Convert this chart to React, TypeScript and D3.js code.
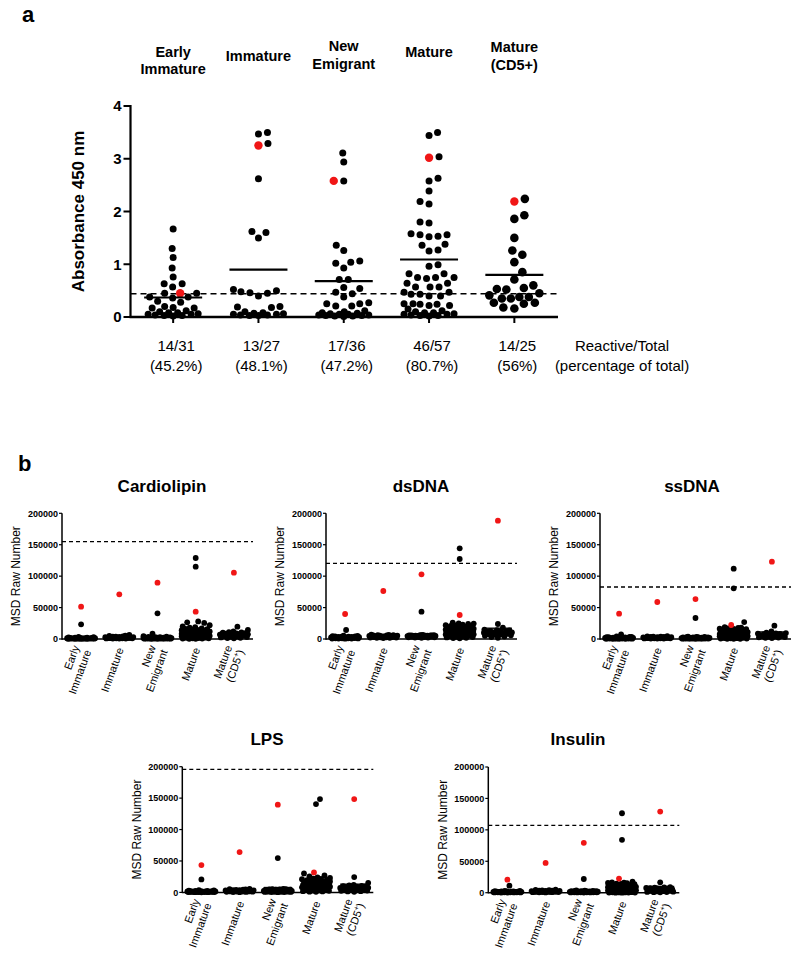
import React from 'react';
import * as d3 from 'd3';

const FONT = "'Liberation Sans', Arial, Helvetica, sans-serif";
const RED = '#f01616';

// ---------------- Panel a data ----------------
const groupsA = ['Early Immature', 'Immature', 'New Emigrant', 'Mature', 'Mature (CD5+)'];
const headerLinesA = [['Early', 'Immature'], ['Immature'], ['New', 'Emigrant'], ['Mature'], ['Mature', '(CD5+)']];
const earlyImmatureA = [1.67, 1.3, 1.13, 0.93, 0.76, 0.63, 0.63, 0.57, 0.45, 0.45, 0.38, 0.38, 0.36, 0.3, 0.28, 0.2, 0.18, 0.17, 0.17, 0.12, 0.1, 0.08, 0.08, 0.06, 0.05, 0.05, 0.04, 0.03, 0.03, 0.02];
const immatureA = [3.5, 3.47, 3.29, 2.62, 1.62, 1.6, 1.5, 0.52, 0.5, 0.48, 0.46, 0.45, 0.4, 0.2, 0.19, 0.18, 0.1, 0.08, 0.07, 0.06, 0.05, 0.05, 0.04, 0.04, 0.03, 0.03];
const newEmigrantA = [3.11, 2.94, 2.58, 1.36, 1.26, 1.06, 1.04, 1.02, 0.93, 0.71, 0.71, 0.56, 0.54, 0.47, 0.44, 0.38, 0.27, 0.25, 0.25, 0.21, 0.21, 0.12, 0.1, 0.08, 0.07, 0.06, 0.05, 0.05, 0.04, 0.04, 0.03, 0.03, 0.02, 0.02, 0.01];
const matureA = [3.5, 3.44, 3.04, 2.63, 2.58, 2.39, 2.19, 2.14, 1.8, 1.78, 1.58, 1.56, 1.56, 1.53, 1.52, 1.38, 1.36, 1.27, 1.25, 0.99, 0.96, 0.82, 0.82, 0.75, 0.75, 0.75, 0.73, 0.64, 0.64, 0.57, 0.57, 0.57, 0.47, 0.47, 0.43, 0.43, 0.4, 0.4, 0.25, 0.25, 0.24, 0.24, 0.22, 0.22, 0.15, 0.12, 0.1, 0.08, 0.08, 0.06, 0.05, 0.05, 0.04, 0.03, 0.03, 0.02];
const matureCD5A = [2.24, 1.93, 1.86, 1.5, 1.26, 1.18, 1.04, 0.85, 0.71, 0.6, 0.55, 0.53, 0.52, 0.45, 0.41, 0.38, 0.38, 0.35, 0.35, 0.27, 0.27, 0.25, 0.18, 0.16];
const blackA = [earlyImmatureA, immatureA, newEmigrantA, matureA, matureCD5A];
const redA = [0.45, 3.25, 2.58, 3.02, 2.19];
const meansA = [0.37, 0.9, 0.68, 1.09, 0.8];
const cutoffA = 0.44;
const reactiveA = ['14/31', '13/27', '17/36', '46/57', '14/25'];
const percentA = ['(45.2%)', '(48.1%)', '(47.2%)', '(80.7%)', '(56%)'];
const yTicksA = [0, 1, 2, 3, 4];

// ---------------- Panel b data ----------------
const groupsB = ['Early Immature', 'Immature', 'New Emigrant', 'Mature', 'Mature (CD5+)'];
const antigensB = ['Cardiolipin', 'dsDNA', 'ssDNA', 'LPS', 'Insulin'];
const cutoffsB = [154800, 120400, 82700, 195900, 107200];
const yTicksB = [0, 50000, 100000, 150000, 200000];

const cardiolipinBlack = [
  [23400, 3200, 2800, 2500, 2300, 2100, 1900, 1800, 1600, 1500, 1400, 1300, 1200, 1100, 1000, 950, 900, 850, 800, 750, 700, 650, 600, 550, 500, 450, 400, 350, 300, 250],
  [6400, 5200, 4800, 4300, 3900, 3600, 3300, 3000, 2800, 2600, 2400, 2200, 2000, 1900, 1700, 1600, 1500, 1400, 1300, 1200, 1100, 1000, 900, 800, 700, 600],
  [40900, 8400, 4500, 3800, 3400, 3100, 2900, 2700, 2500, 2300, 2100, 2000, 1900, 1800, 1700, 1600, 1500, 1400, 1300, 1200, 1100, 1000, 950, 900, 850, 800, 750, 700, 650, 600, 550, 500, 450, 400, 350],
  [128900, 115000, 28000, 26500, 25500, 22000, 20000, 19000, 18000, 17000, 16000, 15500, 15000, 14500, 14000, 13500, 13000, 12500, 12000, 11500, 11000, 10500, 10000, 9500, 9000, 8800, 8500, 8200, 8000, 7700, 7400, 7000, 6700, 6400, 6000, 5700, 5400, 5100, 4800, 4500, 4200, 3900, 3600, 3300, 3000, 2700, 2400, 2100, 1800, 1500, 1200, 1000, 800, 600, 400, 200],
  [19600, 14300, 12000, 11000, 10500, 10000, 9500, 9000, 8500, 8000, 7500, 7000, 6500, 6000, 5500, 5000, 4500, 4000, 3500, 3000, 2500, 2000, 1500, 1000],
];
const cardiolipinRed = [51400, 71100, 89600, 43500, 105500];

const dsDNABlack = [
  [14300, 5200, 4800, 4500, 4200, 4000, 3800, 3600, 3400, 3200, 3000, 2800, 2600, 2500, 2400, 2200, 2000, 1900, 1800, 1600, 1500, 1400, 1200, 1100, 1000, 900, 800, 700, 600, 500],
  [7000, 6500, 6200, 6000, 5800, 5600, 5400, 5200, 5000, 4800, 4600, 4400, 4200, 4000, 3800, 3600, 3400, 3200, 3000, 2800, 2600, 2400, 2200, 2000, 1800, 1600],
  [43500, 6500, 6300, 6100, 6000, 5900, 5800, 5700, 5600, 5500, 5400, 5300, 5200, 5100, 5000, 4900, 4800, 4700, 4600, 4500, 4400, 4300, 4200, 4100, 4000, 3800, 3600, 3400, 3200, 3000, 2800, 2600, 2400, 2200, 2000],
  [144300, 127300, 26000, 25000, 24500, 24000, 23000, 22000, 21000, 20000, 19000, 18000, 17500, 17000, 16500, 16000, 15500, 15000, 14500, 14000, 13500, 13000, 12500, 12000, 11500, 11000, 10500, 10000, 9500, 9000, 8500, 8000, 7500, 7000, 6500, 6000, 5500, 5000, 4500, 4000, 3500, 3000, 2500, 2000, 1500, 1000, 21500, 19500, 18500, 16200, 14800, 13200, 11800, 9800, 8800, 7800],
  [23900, 18000, 15000, 14000, 13500, 13000, 12500, 12000, 11500, 11000, 10500, 10000, 9500, 9000, 8500, 8000, 7500, 7000, 6500, 6000, 5000, 4000, 3000, 2000],
];
const dsDNARed = [39800, 76400, 102900, 38200, 188200];

const ssDNABlack = [
  [7500, 4000, 3500, 3200, 3000, 2800, 2600, 2400, 2200, 2000, 1900, 1800, 1700, 1600, 1500, 1400, 1300, 1200, 1100, 1000, 900, 800, 700, 600, 500, 450, 400, 350, 300, 250],
  [4600, 4200, 3900, 3600, 3400, 3200, 3000, 2800, 2600, 2400, 2200, 2000, 1900, 1800, 1700, 1600, 1500, 1400, 1300, 1200, 1100, 1000, 900, 800, 700, 600],
  [33400, 3800, 3500, 3200, 3000, 2800, 2600, 2500, 2400, 2300, 2200, 2100, 2000, 1900, 1800, 1700, 1600, 1500, 1400, 1300, 1200, 1100, 1000, 950, 900, 850, 800, 750, 700, 650, 600, 550, 500, 450, 400],
  [111900, 80700, 27000, 19000, 18000, 17500, 17000, 16500, 16000, 15500, 15000, 14500, 14000, 13500, 13000, 12500, 12000, 11500, 11000, 10500, 10000, 9700, 9400, 9100, 8800, 8500, 8200, 7900, 7600, 7300, 7000, 6700, 6400, 6100, 5800, 5500, 5200, 4900, 4600, 4300, 4000, 3700, 3400, 3100, 2800, 2500, 2200, 1900, 1600, 1300, 1000, 800, 600, 400, 300, 200],
  [21200, 12200, 10000, 9500, 9000, 8600, 8200, 7800, 7400, 7000, 6600, 6200, 5800, 5400, 5000, 4600, 4200, 3800, 3400, 3000, 2600, 2200, 1800, 1400],
];
const ssDNARed = [40300, 58900, 63600, 22300, 123000];

const lpsBlack = [
  [20700, 3500, 3000, 2700, 2400, 2200, 2000, 1900, 1800, 1700, 1600, 1500, 1400, 1300, 1200, 1100, 1000, 950, 900, 850, 800, 750, 700, 650, 600, 550, 500, 400, 300, 200],
  [5500, 5000, 4600, 4300, 4000, 3700, 3400, 3200, 3000, 2800, 2600, 2400, 2200, 2000, 1900, 1800, 1700, 1600, 1500, 1400, 1300, 1200, 1000, 800, 600, 400],
  [54600, 5500, 5200, 5000, 4800, 4600, 4400, 4200, 4000, 3800, 3600, 3400, 3200, 3000, 2800, 2600, 2400, 2200, 2000, 1900, 1800, 1700, 1600, 1500, 1400, 1300, 1200, 1100, 1000, 900, 800, 700, 600, 500, 400],
  [148500, 140500, 30200, 27000, 25500, 24000, 23000, 22000, 21000, 20000, 19000, 18000, 17000, 16000, 15500, 15000, 14500, 14000, 13500, 13000, 12500, 12000, 11500, 11000, 10500, 10000, 9500, 9000, 8500, 8000, 7500, 7000, 6500, 6000, 5500, 5000, 4500, 4000, 3500, 3000, 2500, 2000, 1500, 1000, 21500, 19500, 18500, 17500, 16500, 12800, 11200, 9200, 7200, 5200, 3200, 1200],
  [24400, 15300, 12000, 11000, 10500, 10000, 9500, 9000, 8500, 8000, 7500, 7000, 6500, 6000, 5500, 5000, 4500, 4000, 3500, 3000, 2500, 2000, 1500, 1000],
];
const lpsRed = [43500, 64100, 139500, 31800, 148500];

const insulinBlack = [
  [11200, 3000, 2700, 2400, 2200, 2000, 1900, 1800, 1700, 1600, 1500, 1400, 1300, 1200, 1100, 1000, 950, 900, 850, 800, 750, 700, 650, 600, 550, 500, 450, 400, 300, 200],
  [4800, 4400, 4000, 3700, 3400, 3200, 3000, 2800, 2600, 2400, 2200, 2000, 1900, 1800, 1700, 1600, 1500, 1400, 1300, 1200, 1100, 1000, 900, 800, 600, 400],
  [21800, 3600, 3300, 3000, 2800, 2600, 2500, 2400, 2300, 2200, 2100, 2000, 1900, 1800, 1700, 1600, 1500, 1400, 1300, 1200, 1100, 1000, 950, 900, 850, 800, 750, 700, 650, 600, 550, 500, 450, 400, 300],
  [126400, 84200, 17500, 16500, 16000, 15500, 15000, 14500, 14000, 13500, 13000, 12500, 12000, 11500, 11000, 10500, 10000, 9700, 9400, 9100, 8800, 8500, 8200, 7900, 7600, 7300, 7000, 6700, 6400, 6100, 5800, 5500, 5200, 4900, 4600, 4300, 4000, 3700, 3400, 3100, 2800, 2500, 2200, 1900, 1600, 1300, 1000, 800, 600, 500, 400, 300, 200, 150, 100, 50],
  [16500, 9000, 8500, 8000, 7600, 7200, 6800, 6400, 6000, 5600, 5200, 4800, 4400, 4000, 3600, 3200, 2800, 2400, 2000, 1600, 1200, 1000, 800, 600],
];
const insulinRed = [20800, 47400, 79400, 22400, 129000];

const blackB = [cardiolipinBlack, dsDNABlack, ssDNABlack, lpsBlack, insulinBlack];
const redB = [cardiolipinRed, dsDNARed, ssDNARed, lpsRed, insulinRed];

// ---------------- layout ----------------
const A_LEFT = 130.5;
const A_RIGHT = 557;
const A_TOP = 106;
const A_BOTTOM = 317;
const headerYA = [[57, 74], [61], [51, 68.5], [57], [52, 70]];

const PB_W = 191;
const PB_H = 125.7;
const layoutB = [
  { left: 62, top: 513.3, titleX: 162, titleY: 492 },
  { left: 326, top: 513.3, titleX: 421, titleY: 492 },
  { left: 600, top: 513.3, titleX: 692, titleY: 492 },
  { left: 182.3, top: 766.7, titleX: 267, titleY: 745 },
  { left: 488.3, top: 767, titleX: 578, titleY: 745 },
];

// beeswarm x offsets (dodge), with a maximum spread where points overlap
function swarm(ys: number[], rs: number[], gap: number, maxSpread: number): number[] {
  const order = d3.range(ys.length).sort((a, b) => ys[b] - ys[a]);
  const placed: { x: number; y: number; r: number }[] = [];
  const out: number[] = new Array(ys.length).fill(0);
  const step = 0.5;
  const nSteps = Math.floor(maxSpread / step);
  order.forEach((i, n) => {
    let best = 0;
    let bestScore = -Infinity;
    const sign = n % 2 === 0 ? 1 : -1;
    for (let k = 0; k <= nSteps * 2; k++) {
      const m = Math.ceil(k / 2);
      const off = (k % 2 === 1 ? sign : -sign) * m * step;
      let score = Infinity;
      for (const p of placed) {
        const dd = Math.hypot(p.x - off, p.y - ys[i]) - (p.r + rs[i] + gap);
        if (dd < score) score = dd;
      }
      if (score >= 0) {
        best = off;
        bestScore = score;
        break;
      }
      if (score > bestScore) {
        bestScore = score;
        best = off;
      }
    }
    placed.push({ x: best, y: ys[i], r: rs[i] });
    out[i] = best;
  });
  return out;
}

function PanelA() {
  const x = d3.scaleBand<string>().domain(groupsA).range([A_LEFT, A_RIGHT]);
  const y = d3.scaleLinear().domain([0, 4]).range([A_BOTTOM, A_TOP]);
  const bw = x.bandwidth();

  const dots: { cx: number; cy: number; r: number; red: boolean }[] = [];
  groupsA.forEach((g, gi) => {
    const vals = [...blackA[gi], redA[gi]];
    const isRed = vals.map((_, i) => i === vals.length - 1);
    const rBlack = gi === 4 ? 4.3 : 3.5;
    const rs = isRed.map((r) => (r ? 4.2 : rBlack));
    const ys = vals.map((v) => y(v));
    const offs = swarm(ys, rs, 2, 25);
    const cx0 = (x(g) as number) + bw / 2;
    vals.forEach((v, i) => dots.push({ cx: cx0 + offs[i], cy: ys[i], r: rs[i], red: isRed[i] }));
  });

  return (
    <g fontFamily={FONT}>
      <text x={22} y={22} fontSize={22} fontWeight="bold">a</text>
      {groupsA.map((g, gi) => {
        const cx = (x(g) as number) + bw / 2;
        return (
          <text key={g} x={cx} textAnchor="middle" fontSize={14.5} fontWeight="bold">
            {headerLinesA[gi].map((l, li) => (
              <tspan key={li} x={cx} y={headerYA[gi][li]}>{l}</tspan>
            ))}
          </text>
        );
      })}
      {/* dashed cutoff */}
      <line x1={A_LEFT} x2={A_RIGHT} y1={y(cutoffA)} y2={y(cutoffA)} stroke="#000" strokeWidth={1.6} strokeDasharray="6,4" />
      {/* dots */}
      {dots.filter((d) => !d.red).map((d, i) => (
        <circle key={'b' + i} cx={d.cx} cy={d.cy} r={d.r} fill="#000" />
      ))}
      {dots.filter((d) => d.red).map((d, i) => (
        <circle key={'r' + i} cx={d.cx} cy={d.cy} r={d.r} fill={RED} />
      ))}
      {/* mean lines */}
      {groupsA.map((g, gi) => {
        const cx = (x(g) as number) + bw / 2;
        return <line key={g} x1={cx - 29} x2={cx + 29} y1={y(meansA[gi])} y2={y(meansA[gi])} stroke="#000" strokeWidth={2.2} />;
      })}
      {/* axes */}
      <line x1={A_LEFT} x2={A_LEFT} y1={A_TOP - 1} y2={A_BOTTOM + 1} stroke="#000" strokeWidth={2.2} />
      <line x1={A_LEFT - 1} x2={A_RIGHT + 1} y1={A_BOTTOM} y2={A_BOTTOM} stroke="#000" strokeWidth={2.5} />
      {yTicksA.map((t) => (
        <g key={t}>
          <line x1={A_LEFT - 7} x2={A_LEFT} y1={y(t)} y2={y(t)} stroke="#000" strokeWidth={2} />
          <text x={A_LEFT - 9} y={y(t)} dy="0.36em" textAnchor="end" fontSize={15} fontWeight="bold">{t}</text>
        </g>
      ))}
      {groupsA.map((g) => {
        const cx = (x(g) as number) + bw / 2;
        return <line key={g} x1={cx} x2={cx} y1={A_BOTTOM} y2={A_BOTTOM + 6} stroke="#000" strokeWidth={2} />;
      })}
      <text transform={`translate(78,${(A_TOP + A_BOTTOM) / 2}) rotate(-90)`} textAnchor="middle" dy="0.36em" fontSize={17} fontWeight="bold">
        Absorbance 450 nm
      </text>
      {groupsA.map((g, gi) => {
        const cx = (x(g) as number) + bw / 2 + 3;
        return (
          <g key={g}>
            <text x={cx} y={351} textAnchor="middle" fontSize={15}>{reactiveA[gi]}</text>
            <text x={cx} y={371} textAnchor="middle" fontSize={15}>{percentA[gi]}</text>
          </g>
        );
      })}
      <text x={622} y={351} textAnchor="middle" fontSize={15}>Reactive/Total</text>
      <text x={622} y={371} textAnchor="middle" fontSize={15}>(percentage of total)</text>
    </g>
  );
}

function XLabelB({ gi }: { gi: number }) {
  if (gi === 0) {
    return (
      <>
        <tspan x={0} dy="-0.25em">Early</tspan>
        <tspan x={0} dy="1.15em">Immature</tspan>
      </>
    );
  }
  if (gi === 2) {
    return (
      <>
        <tspan x={0} dy="-0.25em">New</tspan>
        <tspan x={0} dy="1.15em">Emigrant</tspan>
      </>
    );
  }
  if (gi === 4) {
    return (
      <>
        <tspan x={0} dy="-0.25em">Mature</tspan>
        <tspan x={0} dy="1.15em">(CD5</tspan>
        <tspan baselineShift="super" fontSize={7.5}>+</tspan>
        <tspan>)</tspan>
      </>
    );
  }
  return <tspan x={0} dy="0.35em">{groupsB[gi]}</tspan>;
}

function PanelB({ ai }: { ai: number }) {
  const { left, top, titleX, titleY } = layoutB[ai];
  const bottom = top + PB_H;
  const x = d3.scaleBand<string>().domain(groupsB).range([left, left + PB_W]);
  const y = d3.scaleLinear().domain([0, 200000]).range([bottom, top]);
  const bw = x.bandwidth();
  const black = blackB[ai];
  const red = redB[ai];

  const dots: { cx: number; cy: number; red: boolean }[] = [];
  const means: { cx: number; v: number }[] = [];
  groupsB.forEach((g, gi) => {
    const vals = [...black[gi], red[gi]];
    const ys = vals.map((v) => y(v));
    const rs = vals.map(() => 2.9);
    const offs = swarm(ys, rs, 0.4, 14);
    const cx0 = (x(g) as number) + bw / 2;
    vals.forEach((v, i) => dots.push({ cx: cx0 + offs[i], cy: ys[i], red: i === vals.length - 1 }));
    means.push({ cx: cx0, v: d3.mean(vals) as number });
  });

  return (
    <g fontFamily={FONT}>
      <text x={titleX} y={titleY} textAnchor="middle" fontSize={17} fontWeight="bold">{antigensB[ai]}</text>
      <line x1={left} x2={left + PB_W} y1={y(cutoffsB[ai])} y2={y(cutoffsB[ai])} stroke="#000" strokeWidth={1.3} strokeDasharray="4,3" />
      {dots.filter((d) => !d.red).map((d, i) => (
        <circle key={'b' + i} cx={d.cx} cy={d.cy} r={2.9} fill="#000" />
      ))}
      {means.map((m, i) => (
        <line key={'m' + i} x1={m.cx - 14} x2={m.cx + 14} y1={y(m.v)} y2={y(m.v)} stroke="#000" strokeWidth={1.4} />
      ))}
      {dots.filter((d) => d.red).map((d, i) => (
        <circle key={'r' + i} cx={d.cx} cy={d.cy} r={2.9} fill={RED} />
      ))}
      <line x1={left} x2={left} y1={top} y2={bottom + 0.7} stroke="#000" strokeWidth={1.5} />
      <line x1={left} x2={left + PB_W} y1={bottom} y2={bottom} stroke="#000" strokeWidth={1.5} />
      {yTicksB.map((t) => (
        <g key={t}>
          <line x1={left - 3} x2={left} y1={y(t)} y2={y(t)} stroke="#000" strokeWidth={1.2} />
          <text x={left - 4} y={y(t)} dy="0.36em" textAnchor="end" fontSize={9} fontWeight="bold">{t}</text>
        </g>
      ))}
      <text transform={`translate(${left - 46},${(top + bottom) / 2}) rotate(-90)`} textAnchor="middle" dy="0.36em" fontSize={12}>
        MSD Raw Number
      </text>
      {groupsB.map((g, gi) => {
        const cx = (x(g) as number) + bw / 2 + 1;
        return (
          <text key={g} transform={`translate(${cx},${bottom + 9}) rotate(-70)`} textAnchor="end" fontSize={11}>
            <XLabelB gi={gi} />
          </text>
        );
      })}
    </g>
  );
}

export default function App() {
  return (
    <svg
      width={800}
      height={955}
      viewBox="0 0 800 955"
      style={{ position: 'absolute', left: 0, top: 0, background: '#fff' }}
    >
      <rect x={0} y={0} width={800} height={955} fill="#fff" />
      <PanelA />
      <text x={18} y={471} fontFamily={FONT} fontSize={22} fontWeight="bold">b</text>
      {antigensB.map((a, ai) => (
        <PanelB key={a} ai={ai} />
      ))}
    </svg>
  );
}
